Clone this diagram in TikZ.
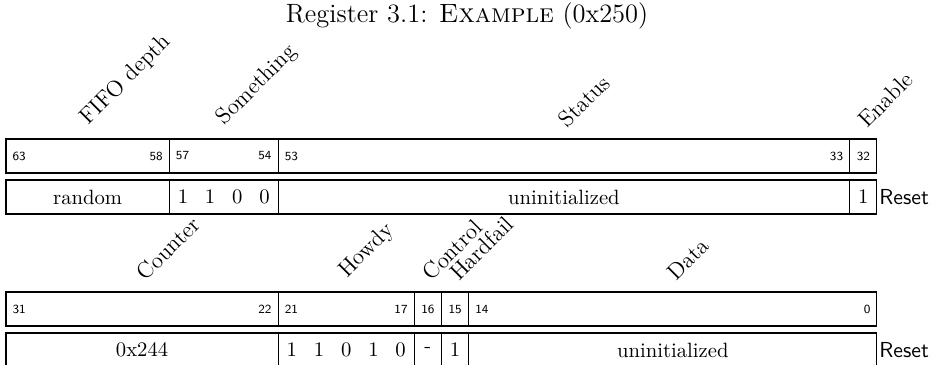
\documentclass[tikz,border=0pt]{standalone}
\usepackage{tikz}
\usetikzlibrary{positioning, calc}

\newcommand{\bw}{0.4627}% width of one bit (cm)
\tikzset{
  fieldbox/.style={draw, line width=0.5pt, outer sep=0pt, inner sep=0pt,
    minimum width=#1*\bw cm, minimum height=0.578cm, anchor=north west},
  bitnum/.style={font=\sffamily\fontsize{6}{7}\selectfont, inner sep=3pt},
  fieldlabel/.style={font=\fontsize{11}{13}\selectfont, rotate=45, anchor=south west, inner sep=0pt},
  resetval/.style={inner sep=0pt},
  resetname/.style={font=\sffamily\fontsize{10.5}{12}\selectfont, inner sep=1pt, anchor=west},
}

\begin{document}
\begin{tikzpicture}
  \useasboundingbox (0,0) rectangle (15.878,6.205);

  % Title
  \node[font=\fontsize{12.8}{15}\selectfont, anchor=base] (title) at (7.94,5.82) {Register 3.1: \textsc{Example} (0x250)};

  % Upper half, bits 63 downto 32
  \node[fieldbox=6] (fifo) at (0.102,3.842) {};
  \node[fieldbox=4, right=0pt of fifo] (some) {};
  \node[fieldbox=21, right=0pt of some] (status) {};
  \node[fieldbox=1, right=0pt of status] (enable) {};

  \node[bitnum, anchor=west] (b63) at (fifo.west) {63};
  \node[bitnum, anchor=east] (b58) at (fifo.east) {58};
  \node[bitnum, anchor=west] (b57) at (some.west) {57};
  \node[bitnum, anchor=east] (b54) at (some.east) {54};
  \node[bitnum, anchor=west] (b53) at (status.west) {53};
  \node[bitnum, anchor=east] (b33) at (status.east) {33};
  \node[bitnum] (b32) at (enable.center) {32};

  \node[fieldlabel] (lfifo) at ($(fifo.north)+(0.07,0.16)$) {FIFO depth};
  \node[fieldlabel] (lsome) at ($(some.north)+(0.07,0.16)$) {Something};
  \node[fieldlabel] (lstatus) at ($(status.north)+(0.07,0.16)$) {Status};
  \node[fieldlabel] (lenable) at ($(enable.north)+(0.07,0.16)$) {Enable};

  % reset values, upper half
  \node[fieldbox=6] (rfifo) at (0.102,3.145) {random};
  \node[fieldbox=4, right=0pt of rfifo] (rsome) {};
  \node[fieldbox=21, right=0pt of rsome] (rstatus) {uninitialized};
  \node[fieldbox=1, right=0pt of rstatus] (renable) {1};
  \foreach \v [count=\i] in {1,1,0,0}
    \node[resetval] (rsome\i) at ($(rsome.west)+({(\i-0.5)*\bw},0)$) {\v};
  \node[resetname, right=0pt of renable] (reset1) {Reset};

  % Lower half, bits 31 downto 0
  \node[fieldbox=10] (counter) at (0.102,1.241) {};
  \node[fieldbox=5, right=0pt of counter] (howdy) {};
  \node[fieldbox=1, right=0pt of howdy] (control) {};
  \node[fieldbox=1, right=0pt of control] (hardfail) {};
  \node[fieldbox=15, right=0pt of hardfail] (data) {};

  \node[bitnum, anchor=west] (b31) at (counter.west) {31};
  \node[bitnum, anchor=east] (b22) at (counter.east) {22};
  \node[bitnum, anchor=west] (b21) at (howdy.west) {21};
  \node[bitnum, anchor=east] (b17) at (howdy.east) {17};
  \node[bitnum] (b16) at (control.center) {16};
  \node[bitnum] (b15) at (hardfail.center) {15};
  \node[bitnum, anchor=west] (b14) at (data.west) {14};
  \node[bitnum, anchor=east] (b0) at (data.east) {0};

  \node[fieldlabel] (lcounter) at ($(counter.north)+(0.07,0.16)$) {Counter};
  \node[fieldlabel] (lhowdy) at ($(howdy.north)+(0.07,0.16)$) {Howdy};
  \node[fieldlabel] (lcontrol) at ($(control.north)+(0.07,0.16)$) {Control};
  \node[fieldlabel] (lhardfail) at ($(hardfail.north)+(0.07,0.16)$) {Hardfail};
  \node[fieldlabel] (ldata) at ($(data.north)+(0.07,0.16)$) {Data};

  % reset values, lower half
  \node[fieldbox=10] (rcounter) at (0.102,0.544) {0x244};
  \node[fieldbox=5, right=0pt of rcounter] (rhowdy) {};
  \node[fieldbox=1, right=0pt of rhowdy] (rcontrol) {-};
  \node[fieldbox=1, right=0pt of rcontrol] (rhardfail) {1};
  \node[fieldbox=15, right=0pt of rhardfail] (rdata) {uninitialized};
  \foreach \v [count=\i] in {1,1,0,1,0}
    \node[resetval] (rhowdy\i) at ($(rhowdy.west)+({(\i-0.5)*\bw},0)$) {\v};
  \node[resetname, right=0pt of rdata] (reset2) {Reset};
\end{tikzpicture}
\end{document}
